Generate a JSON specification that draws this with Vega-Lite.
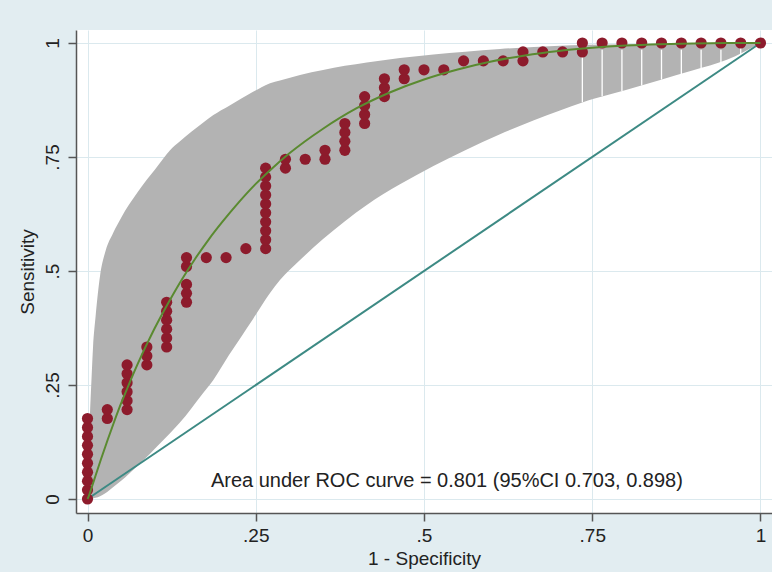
{
  "$schema": "https://vega.github.io/schema/vega-lite/v6.json",
  "width": 696,
  "height": 483,
  "autosize": {"type": "none"},
  "padding": {"left": 76, "top": 30, "right": 0, "bottom": 59},
  "background": "#e2edf1",
  "config": {
    "view": {"fill": "white", "stroke": null},
    "font": "Liberation Sans",
    "axis": {
      "labelFont": "Liberation Sans",
      "titleFont": "Liberation Sans",
      "labelFontSize": 19,
      "titleFontSize": 19,
      "titleFontWeight": "normal",
      "labelColor": "#222222",
      "titleColor": "#222222",
      "gridColor": "#dbe9ee",
      "gridWidth": 1,
      "domainColor": "#555555",
      "domainWidth": 1.5,
      "tickColor": "#555555",
      "tickWidth": 1.5,
      "tickSize": 8
    }
  },
  "datasets": {
    "band": [
      {"x": 0, "y": 0, "y2": 0},
      {"x": 0.001, "y": 0, "y2": 0.075},
      {"x": 0.002, "y": 0.0001, "y2": 0.125},
      {"x": 0.0037, "y": 0.0003, "y2": 0.189},
      {"x": 0.006, "y": 0.0007, "y2": 0.265},
      {"x": 0.0082, "y": 0.0012, "y2": 0.333},
      {"x": 0.012, "y": 0.0026, "y2": 0.40},
      {"x": 0.0186, "y": 0.0062, "y2": 0.489},
      {"x": 0.027, "y": 0.013, "y2": 0.545},
      {"x": 0.0379, "y": 0.026, "y2": 0.583},
      {"x": 0.05, "y": 0.04, "y2": 0.617},
      {"x": 0.0736, "y": 0.072, "y2": 0.671},
      {"x": 0.088, "y": 0.092, "y2": 0.70},
      {"x": 0.1, "y": 0.11, "y2": 0.722},
      {"x": 0.1226, "y": 0.144, "y2": 0.765},
      {"x": 0.137, "y": 0.167, "y2": 0.784},
      {"x": 0.1716, "y": 0.232, "y2": 0.825},
      {"x": 0.187, "y": 0.261, "y2": 0.842},
      {"x": 0.21, "y": 0.315, "y2": 0.862},
      {"x": 0.246, "y": 0.395, "y2": 0.893},
      {"x": 0.2712, "y": 0.452, "y2": 0.912},
      {"x": 0.286, "y": 0.48, "y2": 0.918},
      {"x": 0.3158, "y": 0.524, "y2": 0.93},
      {"x": 0.35, "y": 0.57, "y2": 0.941},
      {"x": 0.415, "y": 0.645, "y2": 0.957},
      {"x": 0.4643, "y": 0.69, "y2": 0.967},
      {"x": 0.514, "y": 0.73, "y2": 0.975},
      {"x": 0.5613, "y": 0.765, "y2": 0.981},
      {"x": 0.6129, "y": 0.80, "y2": 0.987},
      {"x": 0.702, "y": 0.852, "y2": 0.994},
      {"x": 0.7363, "y": 0.87, "y2": 0.9956},
      {"x": 0.751, "y": 0.877, "y2": 0.996},
      {"x": 0.8, "y": 0.897, "y2": 0.997},
      {"x": 0.851, "y": 0.919, "y2": 0.998},
      {"x": 0.9, "y": 0.94, "y2": 0.999},
      {"x": 0.95, "y": 0.963, "y2": 0.9995},
      {"x": 1, "y": 1, "y2": 1}
    ],
    "gaps": [
      {"x": 0.7353, "y": 0.87, "y2": 0.985},
      {"x": 0.7647, "y": 0.883, "y2": 0.985},
      {"x": 0.7941, "y": 0.895, "y2": 0.985},
      {"x": 0.8235, "y": 0.907, "y2": 0.985},
      {"x": 0.8529, "y": 0.92, "y2": 0.985},
      {"x": 0.8824, "y": 0.932, "y2": 0.985},
      {"x": 0.9118, "y": 0.945, "y2": 0.985},
      {"x": 0.9412, "y": 0.957, "y2": 0.985},
      {"x": 0.9706, "y": 0.972, "y2": 0.99}
    ],
    "diag": [{"x": 0, "y": 0}, {"x": 1, "y": 1}],
    "fit": [
      {"x": 0, "y": 0},
      {"x": 0.001, "y": 0.003},
      {"x": 0.003, "y": 0.011},
      {"x": 0.005, "y": 0.0197},
      {"x": 0.01, "y": 0.0424},
      {"x": 0.02, "y": 0.0873},
      {"x": 0.03, "y": 0.130},
      {"x": 0.04, "y": 0.171},
      {"x": 0.05, "y": 0.210},
      {"x": 0.06, "y": 0.246},
      {"x": 0.07, "y": 0.281},
      {"x": 0.08, "y": 0.314},
      {"x": 0.09, "y": 0.345},
      {"x": 0.10, "y": 0.375},
      {"x": 0.12, "y": 0.430},
      {"x": 0.14, "y": 0.481},
      {"x": 0.16, "y": 0.527},
      {"x": 0.18, "y": 0.569},
      {"x": 0.20, "y": 0.607},
      {"x": 0.225, "y": 0.651},
      {"x": 0.25, "y": 0.691},
      {"x": 0.275, "y": 0.726},
      {"x": 0.30, "y": 0.758},
      {"x": 0.35, "y": 0.812},
      {"x": 0.40, "y": 0.857},
      {"x": 0.45, "y": 0.892},
      {"x": 0.50, "y": 0.920},
      {"x": 0.55, "y": 0.942},
      {"x": 0.60, "y": 0.9595},
      {"x": 0.65, "y": 0.9728},
      {"x": 0.70, "y": 0.9826},
      {"x": 0.75, "y": 0.9896},
      {"x": 0.80, "y": 0.9944},
      {"x": 0.85, "y": 0.9974},
      {"x": 0.90, "y": 0.9991},
      {"x": 0.95, "y": 0.9998},
      {"x": 1, "y": 1}
    ],
    "points": [
      {"x": 0, "y": 0}, {"x": 0, "y": 0.0196}, {"x": 0, "y": 0.0392}, {"x": 0, "y": 0.0588}, {"x": 0, "y": 0.0784},
      {"x": 0, "y": 0.098}, {"x": 0, "y": 0.1176}, {"x": 0, "y": 0.1373}, {"x": 0, "y": 0.1569}, {"x": 0, "y": 0.1765},
      {"x": 0.0294, "y": 0.1765}, {"x": 0.0294, "y": 0.1961},
      {"x": 0.0588, "y": 0.1961}, {"x": 0.0588, "y": 0.2157}, {"x": 0.0588, "y": 0.2353}, {"x": 0.0588, "y": 0.2549}, {"x": 0.0588, "y": 0.2745}, {"x": 0.0588, "y": 0.2941},
      {"x": 0.0882, "y": 0.2941}, {"x": 0.0882, "y": 0.3137}, {"x": 0.0882, "y": 0.3333},
      {"x": 0.1176, "y": 0.3333}, {"x": 0.1176, "y": 0.3529}, {"x": 0.1176, "y": 0.3725}, {"x": 0.1176, "y": 0.3922}, {"x": 0.1176, "y": 0.4118}, {"x": 0.1176, "y": 0.4314},
      {"x": 0.1471, "y": 0.4314}, {"x": 0.1471, "y": 0.451}, {"x": 0.1471, "y": 0.4706}, {"x": 0.1471, "y": 0.5098}, {"x": 0.1471, "y": 0.5294},
      {"x": 0.1765, "y": 0.5294},
      {"x": 0.2059, "y": 0.5294},
      {"x": 0.2353, "y": 0.549},
      {"x": 0.2647, "y": 0.549}, {"x": 0.2647, "y": 0.5686}, {"x": 0.2647, "y": 0.5882}, {"x": 0.2647, "y": 0.6078}, {"x": 0.2647, "y": 0.6275},
      {"x": 0.2647, "y": 0.6471}, {"x": 0.2647, "y": 0.6667}, {"x": 0.2647, "y": 0.6863}, {"x": 0.2647, "y": 0.7059}, {"x": 0.2647, "y": 0.7255},
      {"x": 0.2941, "y": 0.7255}, {"x": 0.2941, "y": 0.7451},
      {"x": 0.3235, "y": 0.7451},
      {"x": 0.3529, "y": 0.7451}, {"x": 0.3529, "y": 0.7647},
      {"x": 0.3824, "y": 0.7647}, {"x": 0.3824, "y": 0.7843}, {"x": 0.3824, "y": 0.8039}, {"x": 0.3824, "y": 0.8235},
      {"x": 0.4118, "y": 0.8235}, {"x": 0.4118, "y": 0.8431}, {"x": 0.4118, "y": 0.8627}, {"x": 0.4118, "y": 0.8824},
      {"x": 0.4412, "y": 0.8824}, {"x": 0.4412, "y": 0.902}, {"x": 0.4412, "y": 0.9216},
      {"x": 0.4706, "y": 0.9216}, {"x": 0.4706, "y": 0.9412},
      {"x": 0.5, "y": 0.9412},
      {"x": 0.5294, "y": 0.9412},
      {"x": 0.5588, "y": 0.9608},
      {"x": 0.5882, "y": 0.9608},
      {"x": 0.6176, "y": 0.9608},
      {"x": 0.6471, "y": 0.9608}, {"x": 0.6471, "y": 0.9804},
      {"x": 0.6765, "y": 0.9804},
      {"x": 0.7059, "y": 0.9804},
      {"x": 0.7353, "y": 0.9804}, {"x": 0.7353, "y": 1},
      {"x": 0.7647, "y": 1}, {"x": 0.7941, "y": 1}, {"x": 0.8235, "y": 1}, {"x": 0.8529, "y": 1}, {"x": 0.8824, "y": 1},
      {"x": 0.9118, "y": 1}, {"x": 0.9412, "y": 1}, {"x": 0.9706, "y": 1}, {"x": 1, "y": 1}
    ],
    "note": [{"x": 0.534, "y": 0.039, "label": "Area under ROC curve = 0.801 (95%CI 0.703, 0.898)"}]
  },
  "encoding": {
    "x": {
      "field": "x",
      "type": "quantitative",
      "scale": {"domain": [-0.0171, 1.0171], "nice": false, "zero": false},
      "axis": {
        "values": [0, 0.25, 0.5, 0.75, 1],
        "labelExpr": "replace(format(datum.value, '.2~f'), '0.', '.')",
        "title": "1 - Specificity",
        "grid": true,
        "labelPadding": 5,
        "titlePadding": 4
      }
    },
    "y": {
      "field": "y",
      "type": "quantitative",
      "scale": {"domain": [-0.0307, 1.0285], "nice": false, "zero": false},
      "axis": {
        "values": [0, 0.25, 0.5, 0.75, 1],
        "labelExpr": "replace(format(datum.value, '.2~f'), '0.', '.')",
        "title": "Sensitivity",
        "grid": true,
        "labelAngle": -90,
        "labelAlign": "center",
        "labelBaseline": "bottom",
        "labelPadding": 6,
        "titlePadding": 6
      }
    }
  },
  "layer": [
    {
      "data": {"name": "band"},
      "mark": {"type": "area", "color": "#b3b3b3", "opacity": 1, "interpolate": "monotone"},
      "encoding": {"y2": {"field": "y2"}}
    },
    {
      "data": {"name": "gaps"},
      "mark": {"type": "rule", "color": "#ffffff", "strokeWidth": 1.3},
      "encoding": {"y2": {"field": "y2"}}
    },
    {
      "data": {"name": "diag"},
      "mark": {"type": "line", "color": "#3d8a84", "strokeWidth": 2},
      "encoding": {}
    },
    {
      "data": {"name": "points"},
      "mark": {"type": "point", "filled": true, "shape": "circle", "size": 125, "color": "#8d1b2c", "opacity": 1},
      "encoding": {}
    },
    {
      "data": {"name": "fit"},
      "mark": {"type": "line", "color": "#5a8a30", "strokeWidth": 2, "interpolate": "monotone"},
      "encoding": {}
    },
    {
      "data": {"name": "note"},
      "mark": {"type": "text", "font": "Liberation Sans", "fontSize": 20, "color": "#222222", "align": "center", "baseline": "middle"},
      "encoding": {"text": {"field": "label"}}
    }
  ]
}
